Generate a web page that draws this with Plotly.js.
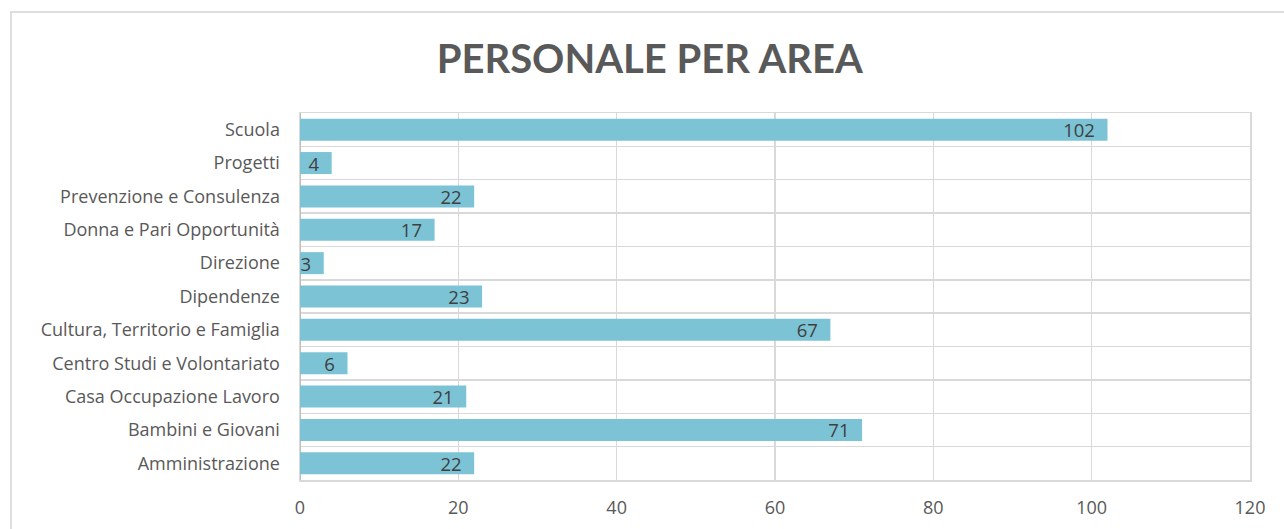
<!DOCTYPE html>
<html>
<head>
<meta charset="utf-8">
<script src="https://cdn.plot.ly/plotly-3.0.1.min.js"></script>
<style>
  html, body { margin: 0; padding: 0; background: #fff; overflow: hidden; }
  #chart { width: 1284px; height: 529px; }
  #frame { position: absolute; left: 10px; top: 11px; width: 1320px; height: 600px;
           border: 2px solid #dedede; pointer-events: none; }
</style>
</head>
<body>
<div id="chart"></div>
<div id="frame"></div>
<script>
const categories = [
  "Amministrazione",
  "Bambini e Giovani",
  "Casa Occupazione Lavoro",
  "Centro Studi e Volontariato",
  "Cultura, Territorio e Famiglia",
  "Dipendenze",
  "Direzione",
  "Donna e Pari Opportunità",
  "Prevenzione e Consulenza",
  "Progetti",
  "Scuola"
];
const values = [22, 71, 21, 6, 67, 23, 3, 17, 22, 4, 102];
const xTicks = [0, 20, 40, 60, 80, 100, 120];

const FONT = "'Open Sans', 'Noto Sans', sans-serif";

const trace = {
  type: "bar",
  orientation: "h",
  y: categories,
  x: values,
  text: values.map(v => String(v) + "\u00a0\u00a0"),
  textposition: "inside",
  insidetextanchor: "end",
  textangle: 0,
  constraintext: "none",
  textfont: { family: FONT, size: 18.5, color: "#404040" },
  marker: { color: "#7cc3d5" },
  width: 0.66,
  hoverinfo: "none",
  cliponaxis: false
};

const layout = {
  width: 1284,
  height: 529,
  margin: { l: 300, r: 34, t: 113, b: 49 },
  paper_bgcolor: "#ffffff",
  plot_bgcolor: "#ffffff",
  showlegend: false,
  title: {
    text: "<b>PERSONALE PER AREA</b>",
    x: 0.506, xanchor: "center",
    y: 0.888, yanchor: "middle",
    font: { family: "Lato, 'Open Sans', sans-serif", size: 40, color: "#595959" }
  },
  xaxis: {
    range: [0, 120],
    tickvals: xTicks,
    ticktext: xTicks.map(String),
    showgrid: true,
    gridcolor: "#d9d9d9",
    gridwidth: 1.5,
    zeroline: true,
    zerolinecolor: "#bfbfbf",
    zerolinewidth: 1.5,
    showline: true,
    mirror: true,
    linecolor: "#d9d9d9",
    linewidth: 1.5,
    ticks: "",
    ticklabelstandoff: 11,
    tickfont: { family: FONT, size: 18, color: "#595959" },
    fixedrange: true
  },
  yaxis: {
    type: "category",
    categoryorder: "array",
    categoryarray: categories,
    tickson: "boundaries",
    showgrid: true,
    gridcolor: "#d9d9d9",
    gridwidth: 1.5,
    showline: true,
    mirror: true,
    linecolor: "#d9d9d9",
    linewidth: 1.5,
    ticks: "",
    ticklen: 0,
    ticklabelstandoff: 15,
    tickfont: { family: FONT, size: 18, color: "#595959" },
    fixedrange: true
  }
};

Plotly.newPlot("chart", [trace], layout, { staticPlot: true, displayModeBar: false });
</script>
</body>
</html>
